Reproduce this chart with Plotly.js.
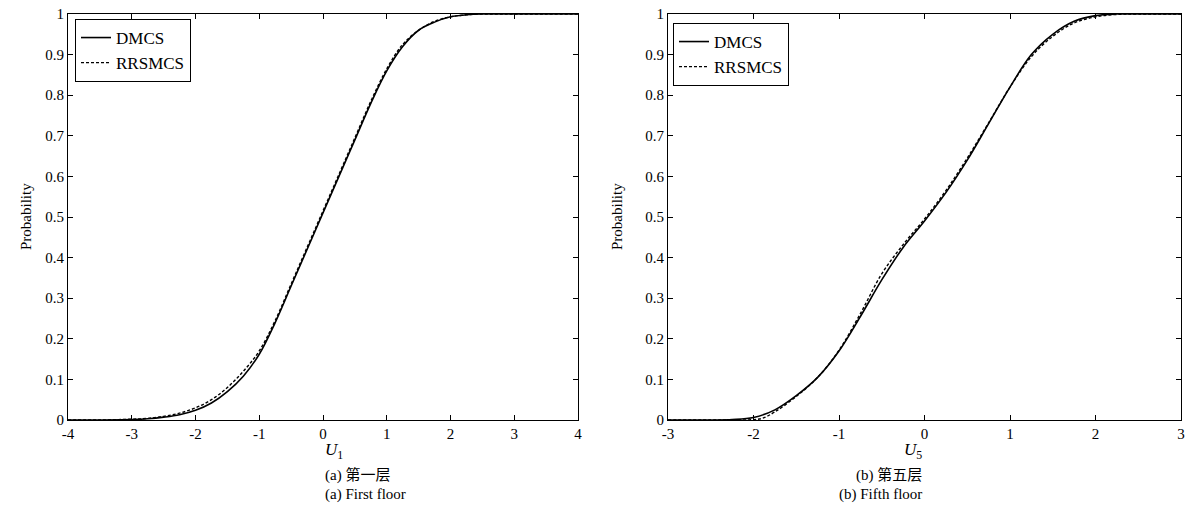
<!DOCTYPE html>
<html>
<head>
<meta charset="utf-8">
<script src="https://cdn.plot.ly/plotly-3.0.1.min.js"></script>
<style>html,body{margin:0;padding:0;background:#fff;}#chart{width:1195px;height:518px;}</style>
</head>
<body>
<div id="chart"></div>
<script>
// Left panel (First floor, U1)
const leftX_D = [-4, -3.5, -3, -2.75, -2.5, -2.25, -2, -1.75, -1.5, -1.25, -1, -0.75, -0.5, -0.25, 0, 0.25, 0.5, 0.75, 1, 1.25, 1.5, 1.75, 2, 2.25, 2.5, 2.75, 3, 3.5, 4];
const leftY_D = [0, 0, 0.001, 0.003, 0.007, 0.013, 0.024, 0.042, 0.07, 0.108, 0.162, 0.24, 0.33, 0.42, 0.51, 0.6, 0.69, 0.78, 0.86, 0.92, 0.96, 0.98, 0.993, 0.998, 1, 1, 1, 1, 1];
const leftX_R = [-4, -3.5, -3, -2.75, -2.5, -2.25, -2, -1.75, -1.5, -1.25, -1, -0.75, -0.5, -0.25, 0, 0.25, 0.5, 0.75, 1, 1.25, 1.5, 1.75, 2, 2.25, 2.5, 2.75, 3, 3.5, 4];
const leftY_R = [0, 0, 0.002, 0.004, 0.009, 0.017, 0.03, 0.05, 0.08, 0.12, 0.17, 0.245, 0.335, 0.425, 0.515, 0.605, 0.695, 0.785, 0.865, 0.925, 0.96, 0.982, 0.993, 0.998, 1, 1, 1, 1, 1];
// Right panel (Fifth floor, U5)
const rightX_D = [-3, -2.5, -2.25, -2, -1.75, -1.5, -1.25, -1, -0.75, -0.5, -0.25, 0, 0.25, 0.5, 0.75, 1, 1.25, 1.5, 1.75, 2, 2.25, 2.5, 3];
const rightY_D = [0, 0, 0.001, 0.006, 0.025, 0.06, 0.105, 0.17, 0.255, 0.345, 0.425, 0.49, 0.56, 0.64, 0.73, 0.82, 0.9, 0.95, 0.982, 0.996, 1, 1, 1];
const rightX_R = [-3, -2.5, -2.25, -2, -1.9, -1.75, -1.5, -1.25, -1, -0.75, -0.5, -0.25, 0, 0.25, 0.5, 0.75, 1, 1.25, 1.5, 1.75, 2, 2.25, 2.5, 3];
const rightY_R = [0, 0, 0, 0.001, 0.004, 0.02, 0.058, 0.105, 0.172, 0.262, 0.36, 0.432, 0.495, 0.565, 0.645, 0.732, 0.82, 0.895, 0.945, 0.978, 0.993, 0.999, 1, 1];

const yTicks = [0, 0.1, 0.2, 0.3, 0.4, 0.5, 0.6, 0.7, 0.8, 0.9, 1];
const yTickText = ['0', '0.1', '0.2', '0.3', '0.4', '0.5', '0.6', '0.7', '0.8', '0.9', '1'];
const leftXTicks = [-4, -3, -2, -1, 0, 1, 2, 3, 4];
const leftXTickText = ['-4', '-3', '-2', '-1', '0', '1', '2', '3', '4'];
const rightXTicks = [-3, -2, -1, 0, 1, 2, 3];
const rightXTickText = ['-3', '-2', '-1', '0', '1', '2', '3'];
const seriesNames = ['DMCS', 'RRSMCS'];

const FONT = 'Liberation Serif, Times New Roman, serif';
const CJK = 'Liberation Serif, Noto Sans CJK SC, serif';

const traces = [
  {x: leftX_D, y: leftY_D, name: seriesNames[0], mode: 'lines', line: {color: '#000', width: 1.6, shape: 'spline'}, xaxis: 'x', yaxis: 'y', legend: 'legend'},
  {x: leftX_R, y: leftY_R, name: seriesNames[1], mode: 'lines', line: {color: '#000', width: 1.4, dash: '3px,2px', shape: 'spline'}, xaxis: 'x', yaxis: 'y', legend: 'legend'},
  {x: rightX_D, y: rightY_D, name: seriesNames[0], mode: 'lines', line: {color: '#000', width: 1.6, shape: 'spline'}, xaxis: 'x2', yaxis: 'y2', legend: 'legend2'},
  {x: rightX_R, y: rightY_R, name: seriesNames[1], mode: 'lines', line: {color: '#000', width: 1.4, dash: '3px,2px', shape: 'spline'}, xaxis: 'x2', yaxis: 'y2', legend: 'legend2'}
];

const W = 1195, H = 518;
const px = v => v / W, py = v => 1 - v / H;

const axisCommon = {
  showgrid: false, zeroline: false, showline: true, linecolor: '#000', linewidth: 1,
  mirror: 'ticks', ticks: 'inside', ticklen: 5, tickcolor: '#000',
  tickfont: {family: FONT, size: 15, color: '#000'}
};

const layout = {
  width: W, height: H,
  margin: {l: 0, r: 0, t: 0, b: 0},
  paper_bgcolor: '#fff', plot_bgcolor: '#fff',
  font: {family: FONT, color: '#000'},
  xaxis: Object.assign({}, axisCommon, {domain: [px(68), px(578)], range: [-4, 4], tickvals: leftXTicks, ticktext: leftXTickText, anchor: 'y'}),
  yaxis: Object.assign({}, axisCommon, {domain: [py(420), py(14)], range: [0, 1], tickvals: yTicks, ticktext: yTickText, anchor: 'x'}),
  xaxis2: Object.assign({}, axisCommon, {domain: [px(668), px(1181)], range: [-3, 3], tickvals: rightXTicks, ticktext: rightXTickText, anchor: 'y2'}),
  yaxis2: Object.assign({}, axisCommon, {domain: [py(420), py(14)], range: [0, 1], tickvals: yTicks, ticktext: yTickText, anchor: 'x2'}),
  legend: {x: px(75), y: py(19), xanchor: 'left', yanchor: 'top', bgcolor: '#fff', bordercolor: '#000', borderwidth: 1,
    font: {family: FONT, size: 17, color: '#000'}, tracegroupgap: 0, itemwidth: 30},
  legend2: {x: px(673), y: py(23), xanchor: 'left', yanchor: 'top', bgcolor: '#fff', bordercolor: '#000', borderwidth: 1,
    font: {family: FONT, size: 17, color: '#000'}, tracegroupgap: 0, itemwidth: 30},
  showlegend: true,
  annotations: [
    {text: '<i>U</i><sub>1</sub>', x: px(323), y: py(464), xref: 'paper', yref: 'paper', showarrow: false, font: {family: FONT, size: 17}},
    {text: '(a) 第一层', x: px(323), y: py(486), xref: 'paper', yref: 'paper', showarrow: false, font: {family: CJK, size: 15}},
    {text: '(a) First floor', x: px(323), y: py(505), xref: 'paper', yref: 'paper', showarrow: false, font: {family: FONT, size: 15}},
    {text: '<i>U</i><sub>5</sub>', x: px(924), y: py(464), xref: 'paper', yref: 'paper', showarrow: false, font: {family: FONT, size: 17}},
    {text: '(b) 第五层', x: px(924), y: py(486), xref: 'paper', yref: 'paper', showarrow: false, font: {family: CJK, size: 15}},
    {text: '(b) Fifth floor', x: px(924), y: py(505), xref: 'paper', yref: 'paper', showarrow: false, font: {family: FONT, size: 15}},
    {text: 'Probability', x: px(16), y: py(217), xref: 'paper', yref: 'paper', showarrow: false, textangle: -90, font: {family: FONT, size: 15}},
    {text: 'Probability', x: px(617), y: py(217), xref: 'paper', yref: 'paper', showarrow: false, textangle: -90, font: {family: FONT, size: 15}}
  ]
};

Plotly.newPlot('chart', traces, layout, {displayModeBar: false, staticPlot: true});
</script>
</body>
</html>
